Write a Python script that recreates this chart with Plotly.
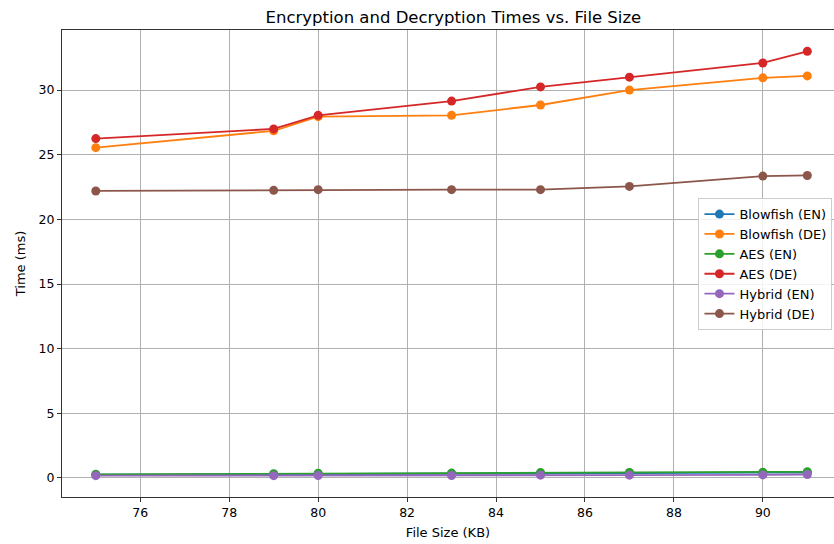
import plotly.graph_objects as go

file_size = [75, 79, 80, 83, 85, 87, 90, 91]
blowfish_en = [0.25, 0.28, 0.32, 0.33, 0.36, 0.38, 0.40, 0.42]
blowfish_de = [25.55, 26.85, 27.95, 28.05, 28.85, 30.0, 30.95, 31.1]
aes_en = [0.28, 0.33, 0.37, 0.38, 0.42, 0.43, 0.45, 0.48]
aes_de = [26.25, 27.0, 28.05, 29.15, 30.25, 31.0, 32.1, 33.0]
hybrid_en = [0.18, 0.18, 0.19, 0.19, 0.22, 0.22, 0.24, 0.27]
hybrid_de = [22.2, 22.25, 22.3, 22.3, 22.3, 22.55, 23.35, 23.4]

series = [
    ("Blowfish (EN)", blowfish_en, "#1f77b4"),
    ("Blowfish (DE)", blowfish_de, "#ff7f0e"),
    ("AES (EN)", aes_en, "#2ca02c"),
    ("AES (DE)", aes_de, "#d62728"),
    ("Hybrid (EN)", hybrid_en, "#9467bd"),
    ("Hybrid (DE)", hybrid_de, "#8c564b"),
]

fig = go.Figure()
for name, vals, col in series:
    fig.add_trace(go.Scatter(
        x=file_size, y=vals, name=name, mode="lines+markers",
        line=dict(color=col, width=1.8),
        marker=dict(color=col, size=9),
    ))

font = "DejaVu Sans, sans-serif"
axis_common = dict(
    showgrid=True, gridcolor="#b0b0b0", gridwidth=0.8,
    showline=True, linecolor="#333333", linewidth=1, mirror=True,
    ticks="outside", ticklen=4, tickcolor="#333333",
    zeroline=False, tickfont=dict(family=font, size=12.5, color="black"),
)
fig.update_xaxes(range=[74.24, 91.6], dtick=2, tick0=76,
                 title=dict(text="File Size (KB)", font=dict(family=font, size=13, color="black"), standoff=8),
                 **axis_common)
fig.update_yaxes(range=[-1.47, 34.65], dtick=5, tick0=0,
                 title=dict(text="Time (ms)", font=dict(family=font, size=13, color="black"), standoff=10),
                 **axis_common)

fig.update_layout(
    width=834, height=544,
    margin=dict(l=62, r=0, t=30, b=47),
    paper_bgcolor="white", plot_bgcolor="white",
    title=dict(text="Encryption and Decryption Times vs. File Size",
               font=dict(family=font, size=16.5, color="black"),
               xref="paper", x=0.507, xanchor="center", y=1 - 17 / 544, yanchor="middle"),
    legend=dict(x=0.998, xanchor="right", y=0.64, yanchor="top",
                bgcolor="rgba(255,255,255,0.85)", bordercolor="#cccccc", borderwidth=1,
                font=dict(family=font, size=13, color="black"),
                itemwidth=30, tracegroupgap=0),
    showlegend=True,
)

fig.write_html("out.html", config={"displayModeBar": False},
               post_script="document.body.style.margin='0';document.body.style.overflow='hidden';")
